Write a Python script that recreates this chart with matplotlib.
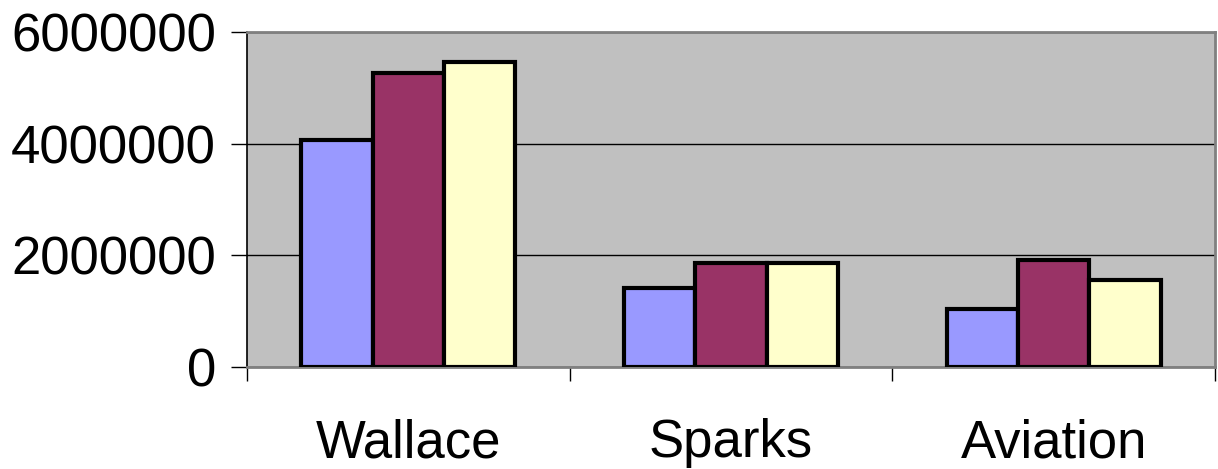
import matplotlib
matplotlib.use("Agg")
import numpy as np
import matplotlib.pyplot as plt

plt.rcParams["font.family"] = ["Liberation Sans", "DejaVu Sans"]

# ---------- data ----------
categories = ["Wallace", "Sparks", "Aviation"]
series_a = [4070000, 1415000, 1030000]
series_b = [5260000, 1860000, 1920000]
series_c = [5470000, 1860000, 1550000]
colors = ["#9999FF", "#993366", "#FFFFCC"]
yticks = [0, 2000000, 4000000, 6000000]

fig = plt.figure(figsize=(12.18, 4.69), dpi=100)
ax = fig.add_axes([0.2028, 0.2175, 0.7947, 0.7143])
ax.set_facecolor("#C0C0C0")

x = np.arange(len(categories))
w = 0.221
for i, (vals, c) in enumerate(zip([series_a, series_b, series_c], colors)):
    ax.bar(x + (i - 1) * w, vals, width=w, color=c, edgecolor="black",
           linewidth=3.0, zorder=3)

ax.set_xlim(-0.5, len(categories) - 0.5)
ax.set_ylim(0, 6000000)

# gridlines
ax.set_yticks(yticks)
ax.set_yticklabels([str(v) for v in yticks])
ax.yaxis.grid(True, color="black", linewidth=1.0, zorder=1)
ax.set_axisbelow(True)

# category labels between boundary tick marks
ax.set_xticks(x)
ax.set_xticklabels(categories)
ax.set_xticks(np.arange(len(categories) + 1) - 0.5, minor=True)
ax.tick_params(axis="x", which="major", length=0, pad=37, labelsize=38)
ax.tick_params(axis="x", which="minor", length=10, width=1.0, color="black")
ax.tick_params(axis="y", length=11.5, width=1.0, pad=11, labelsize=38)

for side in ["top", "right", "bottom"]:
    ax.spines[side].set_color("#808080")
    ax.spines[side].set_linewidth(2.0)
ax.spines["left"].set_color("black")
ax.spines["left"].set_linewidth(1.2)

fig.savefig("out.png", dpi=100)
